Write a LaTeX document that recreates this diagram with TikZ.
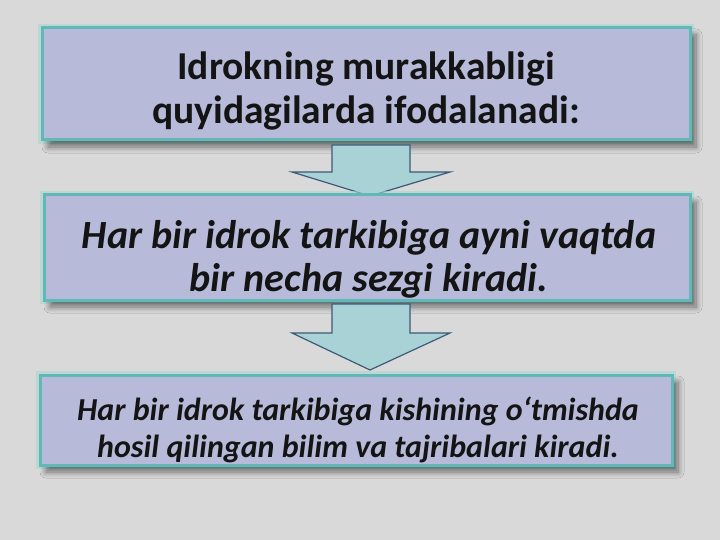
\documentclass[tikz,border=0pt]{standalone}
\usepackage{fontspec}
\setmainfont{Carlito}
\usetikzlibrary{shadows,shadows.blur}
\definecolor{bg}{HTML}{D9D9D9}
\definecolor{boxfill}{HTML}{B7BAD8}
\definecolor{boxedge}{HTML}{62B8B6}
\definecolor{glow}{HTML}{A4D8D2}
\definecolor{arrfill}{HTML}{A9D2D6}
\definecolor{arredge}{HTML}{3E5A78}
\tikzset{
  panel/.style={fill=boxfill, draw=boxedge, line width=3pt,
    blur shadow={shadow xshift=6pt, shadow yshift=-7pt, shadow blur steps=10, shadow blur radius=6pt, shadow opacity=50}},
  panelglow/.style={draw=glow, line width=8pt, opacity=0.6},
  blockarrow/.style={fill=arrfill, draw=arredge, line width=1.2pt, line join=miter},
  txt/.style={align=center, text=black!92}
}
\begin{document}
\begin{tikzpicture}[x=1pt,y=-1pt]
\fill[bg] (0,0) rectangle (720,540);
\useasboundingbox (0,0) rectangle (720,540);
% box 1
\draw[panelglow] (42,28) rectangle (690,140);
\path[panel] (42,28) rectangle (690,140);
\node[txt, font=\fontsize{39.5}{44}\selectfont\bfseries] (t1) at (366,91) {Idrokning murakkabligi\\quyidagilarda ifodalanadi:};
% arrow 1
\path[blockarrow] (332,145) -- (410,145) -- (410,172) -- (450,172) -- (370,196) -- (292,172) -- (332,172) -- cycle;
% box 2
\draw[panelglow] (44,195) rectangle (690,300);
\path[panel] (44,195) rectangle (690,300);
\node[txt, font=\fontsize{40}{43}\selectfont\bfseries\itshape] (t2) at (369,259) {Har bir idrok tarkibiga ayni vaqtda\\bir necha sezgi kiradi.};
% arrow 2
\path[blockarrow] (332,304) -- (410,304) -- (410,333) -- (450,333) -- (370,370) -- (292,333) -- (332,333) -- cycle;
% box 3
\draw[panelglow] (40,375) rectangle (672,465);
\path[panel] (40,375) rectangle (672,465);
\node[txt, font=\fontsize{32}{37}\selectfont\bfseries\itshape] (t3) at (358,430) {Har bir idrok tarkibiga kishining o‘tmishda\\hosil qilingan bilim va tajribalari kiradi.};
\end{tikzpicture}
\end{document}
